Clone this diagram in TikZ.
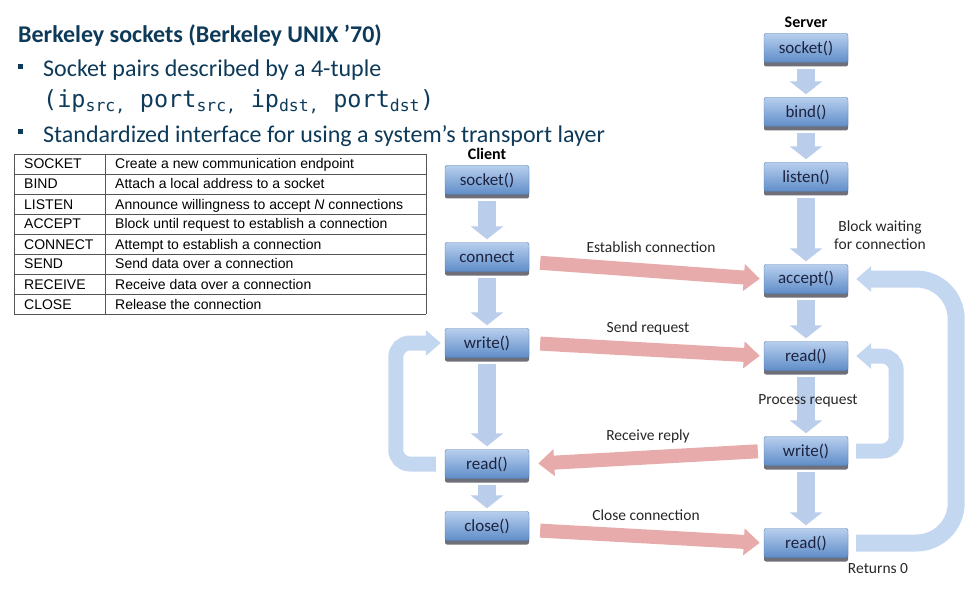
\documentclass[tikz,border=0pt]{standalone}
\usepackage{fontspec}
\setmainfont{Carlito}
\setmonofont{DejaVu Sans Mono}
\newfontfamily\tablefont{Liberation Sans}
\usetikzlibrary{arrows.meta,shadows}

\definecolor{titleblue}{HTML}{0E3A5A}
\definecolor{boxtop}{HTML}{B8CFEE}
\definecolor{boxbot}{HTML}{5F8DC8}
\definecolor{boxedge}{HTML}{5479B0}
\definecolor{boxshadow}{HTML}{6E6F78}
\definecolor{boxtext}{HTML}{1C2340}
\definecolor{flowblue}{HTML}{BACEEC}
\definecolor{loopblue}{HTML}{C4D7F0}
\definecolor{msgred}{HTML}{E8ABAB}
\definecolor{rulegray}{HTML}{555555}

\tikzset{
  heading/.style={anchor=base west, inner sep=0pt, text=titleblue},
  bulletbox/.style={fill=titleblue, minimum width=5pt, minimum height=5pt, inner sep=0pt},
  cell/.style={anchor=base west, inner sep=0pt, font=\tablefont\fontsize{14}{16}\selectfont},
  call/.style={rectangle, rounded corners=2pt, minimum width=84pt, minimum height=29pt,
    top color=boxtop, bottom color=boxbot, draw=boxedge, text=boxtext,
    font=\fontsize{17}{19}\selectfont,
    drop shadow={shadow xshift=0pt, shadow yshift=-4pt, fill=boxshadow, opacity=1}},
  side/.style={font=\bfseries\fontsize{16}{18}\selectfont, inner sep=0pt},
  lbl/.style={font=\fontsize{15.5}{18}\selectfont, inner sep=0pt, text=black!85},
  flow/.style={draw=flowblue, line width=18pt, -{Triangle[width=32pt,length=13pt]},
    shorten <=6pt, shorten >=3pt},
  msg/.style={draw=msgred, line width=14pt, -{Triangle[width=26pt,length=16pt]}},
  loopback/.style={draw=loopblue, line width=15pt, rounded corners=14pt,
    -{Triangle[width=25pt,length=15pt]}}
}

\begin{document}
\begin{tikzpicture}[x=1pt,y=-1pt]
  \useasboundingbox (0,0) rectangle (978,615);

  % slide text
  \node[heading, font=\bfseries\fontsize{24}{27}\selectfont] (title) at (18,43) {Berkeley sockets (Berkeley UNIX '70)};
  \node[bulletbox] (b1) at (20,67) {};
  \node[heading, font=\fontsize{24}{27}\selectfont] (pairs) at (43,77) {Socket pairs described by a 4-tuple};
  \node[heading, font=\ttfamily\fontsize{23.5}{27}\selectfont] (tuple) at (43,108)
    {(ip\textsubscript{src,} port\textsubscript{src,} ip\textsubscript{dst,} port\textsubscript{dst})};
  \node[bulletbox] (b2) at (20,132) {};
  \node[heading, font=\fontsize{24}{27}\selectfont] (iface) at (43,143) {Standardized interface for using a system’s transport layer};

  % table of primitives
  \foreach \cmd/\desc [count=\i] in {SOCKET/Create a new communication endpoint,
      BIND/Attach a local address to a socket,
      LISTEN/Announce willingness to accept \textit{N} connections,
      ACCEPT/Block until request to establish a connection,
      CONNECT/Attempt to establish a connection,
      SEND/Send data over a connection,
      RECEIVE/Receive data over a connection,
      CLOSE/Release the connection}{
    \node[cell] (cmd\i) at (24,{149+20*\i}) {\cmd};
    \node[cell] (desc\i) at (115,{149+20*\i}) {\desc};
  }
  \foreach \k in {0,...,8}
    \draw[rulegray, line width=0.8pt] (14,{154+20*\k}) -- (426,{154+20*\k});
  \foreach \xx in {14,105,426}
    \draw[rulegray, line width=0.8pt] (\xx,154) -- (\xx,314);

  % client side
  \node[side] (client) at (487,154) {Client};
  \node[call] (csock) at (487,180) {socket()};
  \node[call] (cconn) at (487,257) {connect};
  \node[call] (cwrite) at (487,343) {write()};
  \node[call] (cread) at (487,464) {read()};
  \node[call] (cclose) at (487,526) {close()};

  % server side
  \node[side] (server) at (806,22) {Server};
  \node[call] (ssock) at (806,48) {socket()};
  \node[call] (sbind) at (806,112) {bind()};
  \node[call] (slisten) at (806,177) {listen()};
  \node[call] (saccept) at (806,279) {accept()};
  \node[call] (sread) at (806,356) {read()};
  \node[call] (swrite) at (806,451) {write()};
  \node[call] (sfinal) at (806,543) {read()};

  \foreach \a/\b in {csock/cconn, cconn/cwrite, cwrite/cread, cread/cclose,
      ssock/sbind, sbind/slisten, slisten/saccept, saccept/sread, sread/swrite, swrite/sfinal}
    \draw[flow] (\a.south) -- (\b.north);

  % messages between the two sides
  \draw[msg, shorten <=11pt, shorten >=4pt] ([yshift=-5pt]cconn.east) -- (saccept.west);
  \draw[msg, shorten <=11pt, shorten >=4pt] (cwrite.east) -- (sread.west);
  \draw[msg, shorten <=6pt, shorten >=9pt] (swrite.west) -- (cread.east);
  \draw[msg, shorten <=11pt, shorten >=4pt] ([yshift=-4pt]cclose.east) -- (sfinal.west);

  \node[lbl] (lestab) at (651,247) {Establish connection};
  \node[lbl] (lsend) at (648,328) {Send request};
  \node[lbl] (lreply) at (648,436) {Receive reply};
  \node[lbl] (lclose) at (646,515) {Close connection};
  \node[lbl, align=center] (lblock) at (880,235) {Block waiting\\for connection};
  \node[lbl] (lproc) at (808,401) {Process request};
  \node[lbl] (lret) at (878,569) {Returns 0};

  % loops
  \draw[loopback, shorten <=9pt, shorten >=4pt] (cread.west) -- ++(-49,0) |- (cwrite.west);
  \draw[loopback, shorten <=8pt, shorten >=8pt] (swrite.east) -- ++(48,0) |- (sread.east);
  \draw[loopback, line width=17pt, rounded corners=40pt, shorten <=8pt, shorten >=8pt]
    (sfinal.east) -- ++(108,0) |- (saccept.east);
\end{tikzpicture}
\end{document}
